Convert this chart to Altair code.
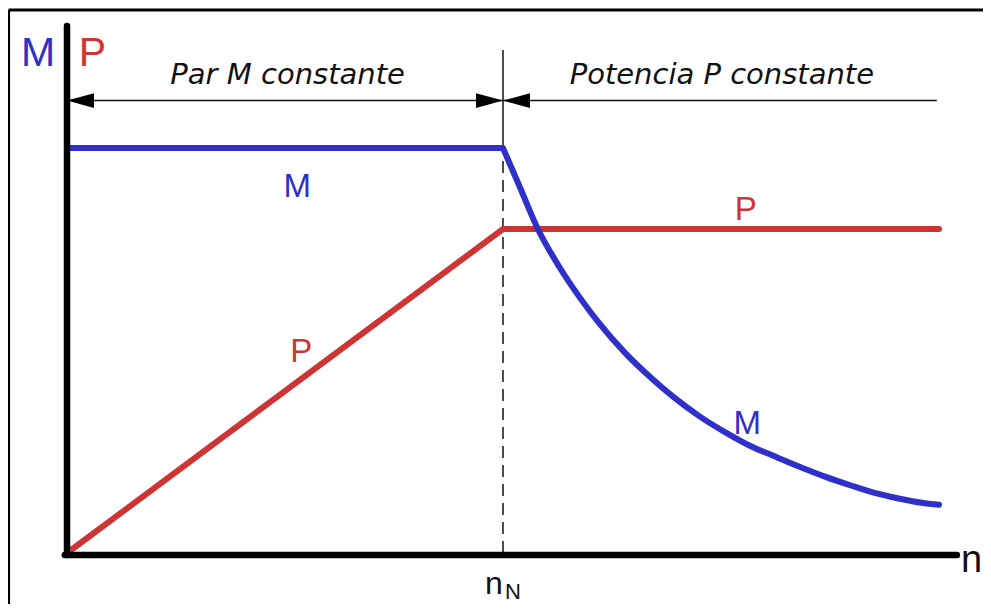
import altair as alt
import pandas as pd

# ---- data (n relative to rated speed n_N; M and P relative to rated) ----
m_flat_n = [0.0, 1.0]
m_flat_val = [1.0, 1.0]
m_n = [1.0, 1.04, 1.08, 1.13, 1.18, 1.22, 1.28, 1.34, 1.39, 1.45, 1.51,
       1.57, 1.62, 1.68, 1.74, 1.80, 1.85, 1.91, 1.96, 2.0]
m_val = [1.0, 0.900, 0.800, 0.705, 0.625, 0.568, 0.494, 0.432, 0.386, 0.338,
         0.298, 0.263, 0.240, 0.213, 0.188, 0.166, 0.149, 0.134, 0.124, 0.119]
p_n = [0.0, 1.0, 2.0]
p_val = [0.0, 0.8, 0.8]

n_rated = 1.0
dim_level = 1.117          # level of the dimension arrows
dim_end = 1.995
text_level = 1.158
sep_top = 1.242

region_labels = ["Par M constante", "Potencia P constante"]
region_x = [0.506, 1.502]

curve_labels = ["M", "P", "P", "M"]
curve_x = [0.528, 1.557, 0.537, 1.560]
curve_y = [0.879, 0.822, 0.472, 0.294]
curve_col = ["#2f2fc9", "#cf3434", "#cf3434", "#2f2fc9"]

BLUE = "#2f2fc9"
RED = "#cf3434"

XMIN, XMAX = -0.12385, 2.08945
YMIN, YMAX = -0.11358, 1.33333
xs = alt.Scale(domain=[XMIN, XMAX], nice=False, zero=False)
ys = alt.Scale(domain=[YMIN, YMAX], nice=False, zero=False)


def X(f):
    return alt.X(f, type="quantitative", scale=xs, axis=None)


def Y(f):
    return alt.Y(f, type="quantitative", scale=ys, axis=None)


m_df = pd.DataFrame({"n": m_n, "v": m_val, "i": range(len(m_n))})
mf_df = pd.DataFrame({"n": m_flat_n, "v": m_flat_val, "i": range(len(m_flat_n))})
p_df = pd.DataFrame({"n": p_n, "v": p_val, "i": range(len(p_n))})

# frame (left and top edges)
frame_v = alt.Chart(pd.DataFrame({"x": [-0.134], "y": [-0.3], "y2": [1.341]})).mark_rule(
    color="black", strokeWidth=3).encode(x=X("x"), y=Y("y"), y2="y2")
frame_h = alt.Chart(pd.DataFrame({"x": [-0.134], "x2": [2.3], "y": [1.341]})).mark_rule(
    color="black", strokeWidth=3).encode(x=X("x"), x2="x2", y=Y("y"))

# axes
axis_y = alt.Chart(pd.DataFrame({"x": [0.0], "y": [-0.005], "y2": [1.301]})).mark_rule(
    color="black", strokeWidth=6.5, strokeCap="round").encode(x=X("x"), y=Y("y"), y2="y2")
axis_x = alt.Chart(pd.DataFrame({"x": [-0.005], "x2": [2.041], "y": [-0.005]})).mark_rule(
    color="black", strokeWidth=6.5, strokeCap="round").encode(x=X("x"), x2="x2", y=Y("y"))

# separator at n_N
sep_solid = alt.Chart(pd.DataFrame({"x": [n_rated], "y": [1.0], "y2": [sep_top]})).mark_rule(
    color="#111111", strokeWidth=1.5).encode(x=X("x"), y=Y("y"), y2="y2")
sep_dash = alt.Chart(pd.DataFrame({"x": [n_rated], "y": [0.0], "y2": [1.0]})).mark_rule(
    color="#111111", strokeWidth=1.5, strokeDash=[12, 7]).encode(x=X("x"), y=Y("y"), y2="y2")

# dimension line with arrows
dim_line = alt.Chart(pd.DataFrame({"x": [0.0], "x2": [dim_end], "y": [dim_level]})).mark_rule(
    color="#111111", strokeWidth=1.5).encode(x=X("x"), x2="x2", y=Y("y"))
LEFT = "M 0 0 L 2 -0.55 L 2 0.55 Z"
RIGHT = "M 0 0 L -2 -0.55 L -2 0.55 Z"
arr_left = alt.Chart(pd.DataFrame({"x": [0.0, n_rated], "y": [dim_level, dim_level]})).mark_point(
    shape=LEFT, filled=True, size=729, color="black", opacity=1, strokeWidth=0).encode(x=X("x"), y=Y("y"))
arr_right = alt.Chart(pd.DataFrame({"x": [n_rated], "y": [dim_level]})).mark_point(
    shape=RIGHT, filled=True, size=729, color="black", opacity=1, strokeWidth=0).encode(x=X("x"), y=Y("y"))

# curves
p_line = alt.Chart(p_df).mark_line(color=RED, strokeWidth=6, strokeCap="round").encode(
    x=X("n"), y=Y("v"), order="i:Q")
m_flat = alt.Chart(mf_df).mark_line(color=BLUE, strokeWidth=6).encode(
    x=X("n"), y=Y("v"), order="i:Q")
m_line = alt.Chart(m_df).mark_line(color=BLUE, strokeWidth=6, strokeCap="round",
                                   interpolate="monotone").encode(
    x=X("n"), y=Y("v"), order="i:Q")

# texts
reg_txt = alt.Chart(pd.DataFrame({"t": region_labels, "x": region_x, "y": [text_level] * 2})).mark_text(
    font="DejaVu Sans", fontSize=29, fontStyle="italic", align="center", baseline="alphabetic",
    color="#111111").encode(x=X("x"), y=Y("y"), text="t:N")

cur_txt = alt.Chart(pd.DataFrame({"t": curve_labels, "x": curve_x, "y": curve_y, "c": curve_col})).mark_text(
    font="Liberation Sans", fontSize=33, align="center", baseline="alphabetic").encode(
    x=X("x"), y=Y("y"), text="t:N", color=alt.Color("c:N", scale=None))

ax_lab = alt.Chart(pd.DataFrame({"t": ["M", "P"], "x": [-0.0665, 0.0585], "y": [1.2025, 1.2025],
                                 "c": [BLUE, RED]})).mark_text(
    font="Liberation Sans", fontSize=41, align="center", baseline="alphabetic").encode(
    x=X("x"), y=Y("y"), text="t:N", color=alt.Color("c:N", scale=None))

n_lab = alt.Chart(pd.DataFrame({"t": ["n"], "x": [2.0505], "y": [-0.0469]})).mark_text(
    font="Liberation Sans", fontSize=38, align="left", baseline="alphabetic", color="#111111").encode(
    x=X("x"), y=Y("y"), text="t:N")
nN_lab = alt.Chart(pd.DataFrame({"t": ["n"], "x": [0.9587], "y": [-0.1012]})).mark_text(
    font="Liberation Sans", fontSize=32, align="left", baseline="alphabetic", color="#111111").encode(
    x=X("x"), y=Y("y"), text="t:N")
nN_sub = alt.Chart(pd.DataFrame({"t": ["N"], "x": [1.0046], "y": [-0.1136]})).mark_text(
    font="Liberation Sans", fontSize=22, align="left", baseline="alphabetic", color="#111111").encode(
    x=X("x"), y=Y("y"), text="t:N")

chart = alt.layer(
    frame_v, frame_h, sep_dash, sep_solid, dim_line, arr_left, arr_right,
    p_line, m_flat, m_line, axis_y, axis_x, reg_txt, cur_txt, ax_lab, n_lab, nN_lab, nN_sub
).properties(
    width=965, height=586,
    padding={"left": 5, "top": 5, "right": 5, "bottom": 5},
    autosize=alt.AutoSizeParams(type="none"),
    background="white",
).configure_view(stroke=None)

chart.save("out.html", embed_options={"renderer": "svg", "actions": False})
